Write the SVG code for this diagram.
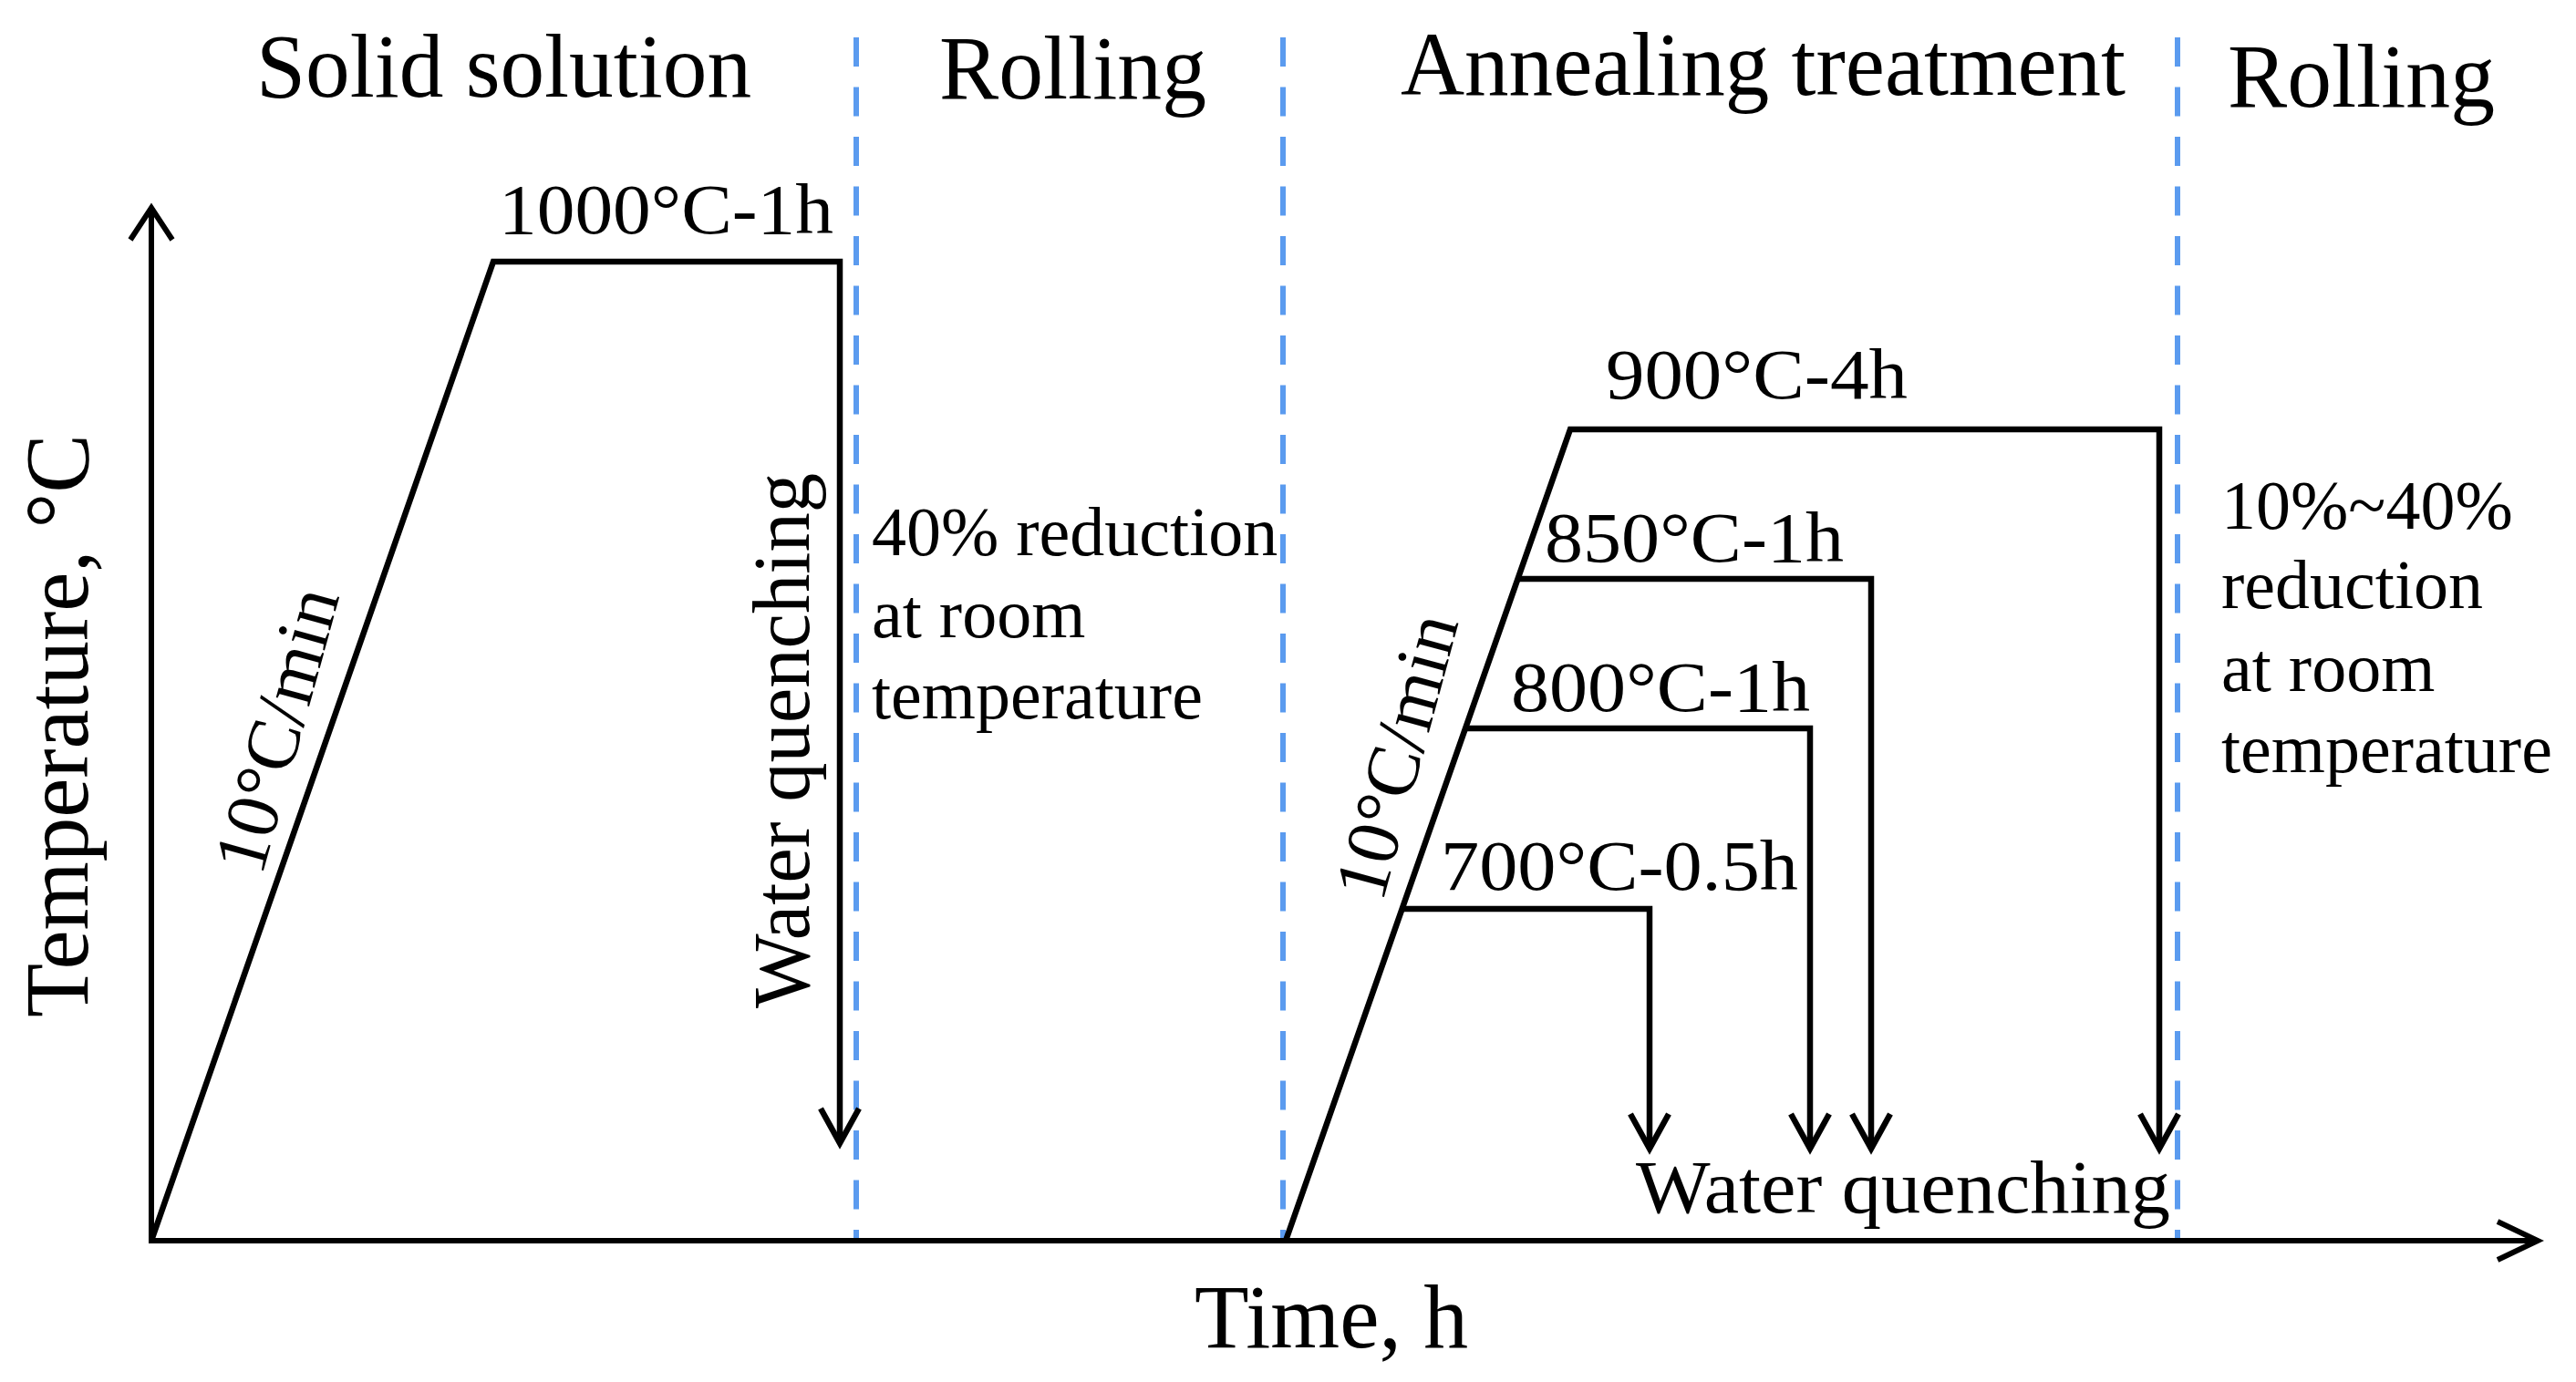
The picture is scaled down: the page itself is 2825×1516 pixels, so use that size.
<svg xmlns="http://www.w3.org/2000/svg" width="2825" height="1516" viewBox="0 0 2825 1516">
<style>
.ln{fill:none;stroke:#000;stroke-width:6.5;stroke-linejoin:miter}
.dv{fill:none;stroke:#5b9bef;stroke-width:6;stroke-dasharray:32 22.5}
text{font-family:"Liberation Serif","Times New Roman",serif;fill:#000}
.hd{font-size:100px}
.lb{font-size:79px}
.nt{font-size:76px}
.rt{font-size:82px}
</style>
<defs>
<marker id="aDown" markerUnits="userSpaceOnUse" viewBox="-50 -30 60 60" markerWidth="60" markerHeight="60" refX="0" refY="0" orient="auto" overflow="visible">
<path d="M-38,-21 L0,0 L-38,21" fill="none" stroke="#000" stroke-width="6.5"/>
</marker>
<marker id="aY" markerUnits="userSpaceOnUse" viewBox="-50 -30 60 60" markerWidth="60" markerHeight="60" refX="0" refY="0" orient="auto" overflow="visible">
<path d="M-35,-23 L0,0 L-35,23" fill="none" stroke="#000" stroke-width="6"/>
</marker>
<marker id="aX" markerUnits="userSpaceOnUse" viewBox="-50 -30 60 60" markerWidth="60" markerHeight="60" refX="0" refY="0" orient="auto" overflow="visible">
<path d="M-44,-21 L0,0 L-44,21" fill="none" stroke="#000" stroke-width="6"/>
</marker>
</defs>
<rect width="2825" height="1516" fill="#fff"/>

<g id="dividers">
<line class="dv" x1="939" y1="41" x2="939" y2="1360"/>
<line class="dv" x1="1407" y1="41" x2="1407" y2="1360"/>
<line class="dv" x1="2388" y1="41" x2="2388" y2="1360"/>
</g>

<g id="axes">
<line class="ln" x1="166" y1="1364" x2="166" y2="228" style="stroke-width:6" marker-end="url(#aY)"/>
<line class="ln" x1="163" y1="1361" x2="2783" y2="1361" style="stroke-width:6" marker-end="url(#aX)"/>
</g>

<g id="connectors">
<polyline id="solid-solution-path" class="ln" points="166,1361 541,287 921,287 921,1254" marker-end="url(#aDown)"/>
<polyline id="anneal-900" class="ln" points="1410,1361 1722,471 2368,471 2368,1260" marker-end="url(#aDown)"/>
<polyline id="anneal-850" class="ln" points="1664.5,635 2052,635 2052,1260" marker-end="url(#aDown)"/>
<polyline id="anneal-800" class="ln" points="1607,799 1985,799 1985,1260" marker-end="url(#aDown)"/>
<polyline id="anneal-700" class="ln" points="1537.6,997 1809,997 1809,1260" marker-end="url(#aDown)"/>
</g>

<g id="stage-headers">
<text class="hd" x="281" y="106" textLength="543" lengthAdjust="spacingAndGlyphs">Solid solution</text>
<text class="hd" x="1030" y="108" textLength="293" lengthAdjust="spacingAndGlyphs">Rolling</text>
<text class="hd" x="1536" y="104" textLength="795" lengthAdjust="spacingAndGlyphs">Annealing treatment</text>
<text class="hd" x="2443" y="117" textLength="293" lengthAdjust="spacingAndGlyphs">Rolling</text>
</g>

<g id="axis-labels">
<text class="hd" transform="translate(96,1116) rotate(-90)" x="0" y="0" textLength="640" lengthAdjust="spacingAndGlyphs">Temperature, °C</text>
<text class="hd" x="1310" y="1478" textLength="300" lengthAdjust="spacingAndGlyphs">Time, h</text>
</g>

<g id="hold-labels">
<text class="lb" x="547" y="256" textLength="367" lengthAdjust="spacingAndGlyphs">1000°C-1h</text>
<text class="lb" x="1761" y="437" textLength="331" lengthAdjust="spacingAndGlyphs">900°C-4h</text>
<text class="lb" x="1694" y="616" textLength="328" lengthAdjust="spacingAndGlyphs">850°C-1h</text>
<text class="lb" x="1657" y="780" textLength="328" lengthAdjust="spacingAndGlyphs">800°C-1h</text>
<text class="lb" x="1580" y="976" textLength="392" lengthAdjust="spacingAndGlyphs">700°C-0.5h</text>
</g>

<g id="rate-labels">
<text class="rt" transform="translate(287,962) rotate(-74.5)" x="0" y="0">10°C/min</text>
<text class="rt" transform="translate(1516,991) rotate(-74.8)" x="0" y="0">10°C/min</text>
</g>

<g id="quench-labels">
<text class="lb" style="font-size:88px" transform="translate(887,1106) rotate(-90)" x="0" y="0" textLength="587" lengthAdjust="spacingAndGlyphs">Water quenching</text>
<text class="lb" style="font-size:82px" x="1794" y="1330" textLength="586" lengthAdjust="spacingAndGlyphs">Water quenching</text>
</g>

<g id="rolling-notes">
<text class="nt" x="956" y="609">40% reduction</text>
<text class="nt" x="956" y="699">at room</text>
<text class="nt" x="956" y="788">temperature</text>
<text class="nt" x="2436" y="580">10%~40%</text>
<text class="nt" x="2436" y="667">reduction</text>
<text class="nt" x="2436" y="758">at room</text>
<text class="nt" x="2436" y="847">temperature</text>
</g>
</svg>
